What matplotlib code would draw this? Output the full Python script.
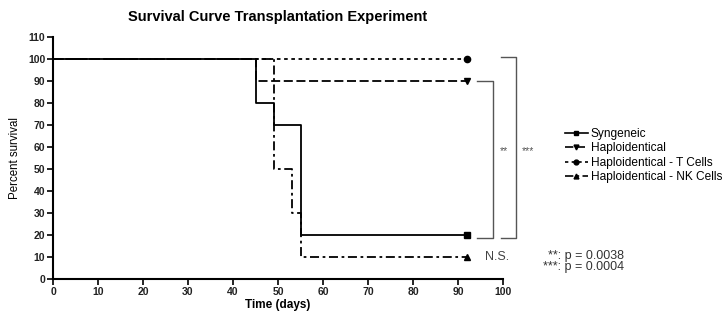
import matplotlib
matplotlib.use("Agg")
import matplotlib.pyplot as plt
from matplotlib.lines import Line2D

plt.rcParams['font.family'] = ['Liberation Sans', 'DejaVu Sans']

# survival data (time in days, percent survival)
syn_t = [0, 45, 49, 55, 92]
syn_s = [100, 80, 70, 20, 20]
hap_t = [0, 45, 92]
hap_s = [100, 90, 90]
tc_t = [0, 92]
tc_s = [100, 100]
nk_t = [0, 49, 53, 55, 92]
nk_s = [100, 50, 30, 10, 10]

labels = ["Syngeneic", "Haploidentical", "Haploidentical - T Cells", "Haploidentical - NK Cells"]
pvals = ["**: p = 0.0038", "***: p = 0.0004"]

fig = plt.figure(figsize=(7.28, 3.11), dpi=100)
ax = fig.add_axes([53/728, 32/311, 450/728, 242/311])

styles = [
    (syn_t, syn_s, "-", "s"),
    (hap_t, hap_s, (0, (5, 2)), "v"),
    (tc_t, tc_s, (0, (2, 2)), "o"),
    (nk_t, nk_s, (0, (5, 2, 1.5, 2)), "^"),
]
handles = []
for (t, s, ls, mk), lab in zip(styles, labels):
    ax.step(t, s, where="post", color="black", lw=1.3, ls=ls,
            marker=mk, markevery=[-1], ms=4.5, clip_on=False)
    handles.append(Line2D([], [], color="black", lw=1.2, ls=ls, marker=mk, ms=3.5))

ax.set_xlim(0, 100)
ax.set_ylim(0, 110)
ax.set_xticks(range(0, 101, 10))
ax.set_yticks(range(0, 111, 10))
for side in ["top", "right"]:
    ax.spines[side].set_visible(False)
for side in ["left", "bottom"]:
    ax.spines[side].set_linewidth(1.5)
ax.tick_params(direction="out", length=4, width=1.2, labelsize=7.5, pad=1.5)
for lbl in ax.get_xticklabels() + ax.get_yticklabels():
    lbl.set_fontweight("bold")
    lbl.set_color("#222222")

ax.set_xlabel("Time (days)", fontsize=8.5, fontweight="bold", labelpad=2)
ax.set_ylabel("Percent survival", fontsize=8.3, labelpad=5)
fig.text(278/728, 1 - 17/311, "Survival Curve Transplantation Experiment",
         ha="center", va="center", fontsize=10.5, fontweight="bold")

# significance brackets
gray = "#555555"
ax.plot([94.3, 97.8, 97.8, 94.3], [90, 90, 18.5, 18.5], color=gray, lw=1, clip_on=False)
ax.plot([99.5, 102.9, 102.9, 99.5], [101, 101, 18.5, 18.5], color=gray, lw=1, clip_on=False)
ax.text(100.3, 58, "**", fontsize=7.5, color=gray, ha="center", va="center")
ax.text(105.5, 58, "***", fontsize=7.5, color=gray, ha="center", va="center")
ax.text(96, 10, "N.S.", fontsize=9, color="#444444", ha="left", va="center")
ax.text(127, 10.5, pvals[0], fontsize=9, color="#333333", ha="right", va="center", clip_on=False)
ax.text(127, 5.3, pvals[1], fontsize=9, color="#333333", ha="right", va="center", clip_on=False)

fig.legend(handles, labels, loc="upper left", bbox_to_anchor=(565/728, 1 - 128/311),
           frameon=False, fontsize=8.6, handlelength=1.9, handletextpad=0.25,
           labelspacing=0.2, borderpad=0, borderaxespad=0)

fig.savefig("out.png", dpi=100)
